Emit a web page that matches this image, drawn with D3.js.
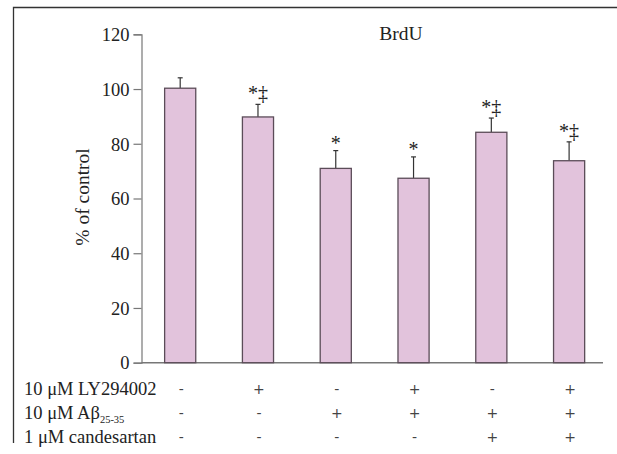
<!DOCTYPE html>
<html>
<head>
<meta charset="utf-8">
<script src="https://cdn.jsdelivr.net/npm/d3@7"></script>
<style>
  body { margin: 0; background: #fff; }
  svg text { font-family: "Liberation Serif", "DejaVu Serif", serif; fill: #222; }
</style>
</head>
<body>
<div id="chart"></div>
<script>
// data
var groups = ["g1", "g2", "g3", "g4", "g5", "g6"];
var values = [100.3, 89.8, 71.0, 67.4, 84.2, 73.8];
var errors = [3.8, 4.6, 6.5, 7.8, 5.2, 6.9];
var marks = ["", "*\u2021", "*", "*", "*\u2021", "*\u2021"];
var yTicks = [0, 20, 40, 60, 80, 100, 120];
var ly294002 = ["-", "+", "-", "+", "-", "+"];
var abeta = ["-", "-", "+", "+", "+", "+"];
var candesartan = ["-", "-", "-", "-", "+", "+"];

var width = 617, height = 454;

var svg = d3.select("#chart").append("svg")
  .attr("width", width)
  .attr("height", height);

// frame (top + left only)
svg.append("path")
  .attr("d", "M13.5,443 V7.5 H617")
  .attr("fill", "none")
  .attr("stroke", "#333")
  .attr("stroke-width", 1.3);

var x = d3.scaleBand()
  .domain(groups)
  .range([141.3, 608])
  .paddingInner(0.6)
  .paddingOuter(0.3);

var y = d3.scaleLinear()
  .domain([0, 120])
  .range([362.7, 34.3]);

// y axis
var yAxis = svg.append("g")
  .attr("transform", "translate(141.5,0)")
  .call(d3.axisLeft(y).tickValues(yTicks).tickSize(8).tickPadding(4));
yAxis.select(".domain").attr("stroke", "#777").attr("stroke-width", 1.2);
yAxis.selectAll(".tick line").attr("stroke", "#777").attr("stroke-width", 1.2);
yAxis.selectAll(".tick text")
  .attr("font-size", 18.5)
  .attr("dy", "0.34em");

// x axis line
svg.append("line")
  .attr("x1", 141.5).attr("x2", 603)
  .attr("y1", y(0)).attr("y2", y(0))
  .attr("stroke", "#777")
  .attr("stroke-width", 1.4);

// error bars
var bars = svg.append("g");
groups.forEach(function (g, i) {
  var cx = x(g) + x.bandwidth() / 2;
  bars.append("line")
    .attr("x1", cx).attr("x2", cx)
    .attr("y1", y(values[i])).attr("y2", y(values[i] + errors[i]))
    .attr("stroke", "#333").attr("stroke-width", 1.2);
  bars.append("line")
    .attr("x1", cx - 2.5).attr("x2", cx + 2.5)
    .attr("y1", y(values[i] + errors[i])).attr("y2", y(values[i] + errors[i]))
    .attr("stroke", "#333").attr("stroke-width", 1.2);
});

bars.selectAll("rect")
  .data(values)
  .enter().append("rect")
  .attr("x", function (d, i) { return x(groups[i]); })
  .attr("y", function (d) { return y(d); })
  .attr("width", x.bandwidth())
  .attr("height", function (d) { return y(0) - y(d); })
  .attr("fill", "#e2c3dc")
  .attr("stroke", "#5b4c58")
  .attr("stroke-width", 1.3);

// significance marks
svg.append("g").selectAll("text")
  .data(marks)
  .enter().append("text")
  .attr("x", function (d, i) { return x(groups[i]) + x.bandwidth() / 2; })
  .attr("y", function (d, i) { return y(values[i] + errors[i]) - (d.length > 1 ? 4 : 1); })
  .attr("text-anchor", "middle")
  .attr("font-size", 20)
  .text(function (d) { return d; });

// title
svg.append("text")
  .attr("x", 401)
  .attr("y", 40)
  .attr("text-anchor", "middle")
  .attr("font-size", 19.5)
  .text("BrdU");

// y label
svg.append("text")
  .attr("transform", "translate(89,197) rotate(-90)")
  .attr("text-anchor", "middle")
  .attr("font-size", 19.5)
  .text("% of control");

// treatment table
var rows = [
  { label: "10 \u03bcM LY294002", signs: ly294002, base: 395 },
  { label: "10 \u03bcM A\u03b2", sub: "25-35", signs: abeta, base: 419 },
  { label: "1 \u03bcM candesartan", signs: candesartan, base: 443 }
];

rows.forEach(function (r) {
  var t = svg.append("text")
    .attr("x", 24)
    .attr("y", r.base)
    .attr("font-size", 18.5);
  t.append("tspan").text(r.label);
  if (r.sub) {
    t.append("tspan")
      .attr("font-size", 10.5)
      .attr("dy", 4)
      .text(r.sub);
  }
  svg.append("g").selectAll("text")
    .data(r.signs)
    .enter().append("text")
    .attr("x", function (d, i) { return x(groups[i]) + x.bandwidth() / 2 + 1; })
    .attr("y", r.base - 1)
    .attr("text-anchor", "middle")
    .attr("font-size", 14)
    .style("font-family", "DejaVu Sans, sans-serif")
    .style("fill", "#444")
    .text(function (d) { return d; });
});
</script>
</body>
</html>
